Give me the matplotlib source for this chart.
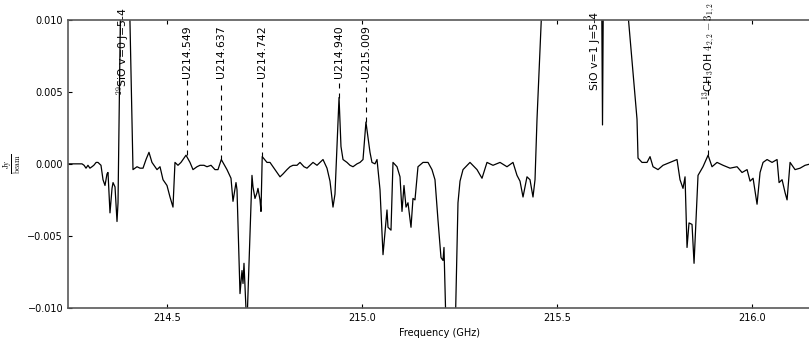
import matplotlib
matplotlib.use("Agg")

import matplotlib.pyplot as plt
import numpy as np

plt.rcParams['mathtext.fontset'] = 'cm'

# spectrum: frequency (GHz) and flux density (Jy/beam), peaks beyond the plot range get clipped
freq_ghz = [
    214.2448, 214.2550, 214.2700, 214.2807, 214.2860, 214.2910, 214.2960, 214.3010,
    214.3063, 214.3110, 214.3170, 214.3217, 214.3294, 214.3346, 214.3397, 214.3448,
    214.3474, 214.3525, 214.3577, 214.3603, 214.3654, 214.3705, 214.3731, 214.3885,
    214.4115, 214.4218, 214.4295, 214.4372, 214.4449, 214.4525, 214.4602, 214.4679,
    214.4731, 214.4808, 214.4885, 214.4936, 214.4987, 214.5064, 214.5141, 214.5192,
    214.5269, 214.5346, 214.5475, 214.5577, 214.5654, 214.5757, 214.5834, 214.5936,
    214.6013, 214.6116, 214.6218, 214.6295, 214.6380, 214.6526, 214.6629, 214.6680,
    214.6757, 214.6783, 214.6860, 214.6911, 214.6937, 214.6962, 214.7014, 214.7040,
    214.7167, 214.7193, 214.7244, 214.7296, 214.7321, 214.7373, 214.7398, 214.7430,
    214.7552, 214.7629, 214.7706, 214.7809, 214.7886, 214.7963, 214.8065, 214.8142,
    214.8219, 214.8322, 214.8399, 214.8501, 214.8578, 214.8732, 214.8835, 214.8989,
    214.9091, 214.9168, 214.9245, 214.9296, 214.9348, 214.9400, 214.9450, 214.9502,
    214.9604, 214.9681, 214.9758, 214.9861, 214.9938, 215.0015, 215.0090, 215.0194,
    215.0245, 215.0322, 215.0374, 215.0451, 215.0528, 215.0630, 215.0656, 215.0733,
    215.0784, 215.0887, 215.0964, 215.1015, 215.1066, 215.1118, 215.1169, 215.1246,
    215.1297, 215.1348, 215.1425, 215.1554, 215.1682, 215.1784, 215.1861, 215.1938,
    215.2015, 215.2067, 215.2092, 215.2272, 215.2451, 215.2503, 215.2580, 215.2759,
    215.2939, 215.3067, 215.3195, 215.3349, 215.3529, 215.3708, 215.3862, 215.3965,
    215.4042, 215.4119, 215.4221, 215.4298, 215.4375, 215.4427, 215.4478, 215.4606,
    215.4811, 215.6094, 215.6158, 215.6222, 215.6607, 215.6761, 215.7043, 215.7069,
    215.7171, 215.7300, 215.7377, 215.7454, 215.7582, 215.7710, 215.7890, 215.8069,
    215.8146, 215.8223, 215.8275, 215.8326, 215.8377, 215.8454, 215.8506, 215.8583,
    215.8608, 215.8736, 215.8866, 215.8967, 215.9096, 215.9250, 215.9429, 215.9609,
    215.9737, 215.9866, 215.9943, 216.0020, 216.0122, 216.0199, 216.0276, 216.0379,
    216.0507, 216.0635, 216.0687, 216.0764, 216.0841, 216.0892, 216.0969, 216.1097,
    216.1226, 216.1354, 216.1500,
]
flux_jy = [
    0.0000, 0.0000, 0.0000, 0.0000, -0.0001, -0.0003, -0.0001, -0.0003,
    -0.0002, -0.0001, 0.0001, 0.0001, -0.0001, -0.0011, -0.0015, -0.0007,
    -0.0006, -0.0034, -0.0017, -0.0013, -0.0016, -0.0040, -0.0027, 0.0300,
    -0.0004, -0.0002, -0.0003, -0.0003, 0.0003, 0.0008, 0.0001, -0.0002,
    -0.0004, -0.0002, -0.0011, -0.0013, -0.0015, -0.0023, -0.0030, 0.0001,
    -0.0001, 0.0001, 0.0006, 0.0001, -0.0004, -0.0002, -0.0001, -0.0001,
    -0.0002, -0.0001, -0.0004, -0.0004, 0.0003, -0.0004, -0.0010, -0.0026,
    -0.0013, -0.0018, -0.0090, -0.0074, -0.0083, -0.0069, -0.0101, -0.0110,
    -0.0008, -0.0016, -0.0024, -0.0020, -0.0017, -0.0025, -0.0033, 0.0005,
    0.0001, 0.0001, -0.0002, -0.0006, -0.0009, -0.0007, -0.0004, -0.0002,
    -0.0001, -0.0001, 0.0001, -0.0002, -0.0003, 0.0001, -0.0001, 0.0003,
    -0.0003, -0.0012, -0.0030, -0.0021, 0.0012, 0.0046, 0.0012, 0.0003,
    0.0001, -0.0001, -0.0002, 0.0000, 0.0001, 0.0003, 0.0029, 0.0008,
    0.0001, 0.0000, 0.0003, -0.0018, -0.0063, -0.0032, -0.0044, -0.0046,
    0.0001, -0.0002, -0.0009, -0.0033, -0.0015, -0.0030, -0.0027, -0.0044,
    -0.0024, -0.0025, -0.0002, 0.0001, 0.0001, -0.0004, -0.0011, -0.0039,
    -0.0065, -0.0067, -0.0058, -0.0250, -0.0027, -0.0012, -0.0004, 0.0001,
    -0.0004, -0.0010, 0.0001, -0.0001, 0.0001, -0.0002, 0.0001, -0.0008,
    -0.0012, -0.0023, -0.0009, -0.0011, -0.0023, -0.0011, 0.0031, 0.0110,
    0.0300, 0.0300, 0.0027, 0.0300, 0.0300, 0.0120, 0.0031, 0.0004,
    0.0001, 0.0001, 0.0005, -0.0002, -0.0004, -0.0001, 0.0001, 0.0003,
    -0.0011, -0.0017, -0.0009, -0.0058, -0.0041, -0.0042, -0.0069, -0.0023,
    -0.0008, -0.0002, 0.0006, -0.0002, 0.0001, -0.0001, -0.0003, -0.0002,
    -0.0006, -0.0004, -0.0012, -0.0010, -0.0028, -0.0006, 0.0001, 0.0003,
    0.0001, 0.0003, -0.0013, -0.0011, -0.0020, -0.0025, 0.0001, -0.0004,
    -0.0003, -0.0001, 0.0000,
]

# identified lines: rest frequency, label, flux of the peak under the marker (None = no marker)
line_freqs = [214.385, 214.549, 214.637, 214.742, 214.940, 215.009, 215.596, 215.8866]
line_labels = [
    r"$^{29}$SiO v=0 J=5-4",
    "U214.549",
    "U214.637",
    "U214.742",
    "U214.940",
    "U215.009",
    "SiO v=1 J=5-4",
    r"$^{13}$CH$_3$OH $4_{2,2}-3_{1,2}$",
]
line_peaks = [None, 0.0006, 0.0003, 0.0005, 0.0046, 0.0029, None, 0.0006]

label_y = 0.0078   # centre of the rotated labels
marker_top = 0.0058  # dashed markers stop just under the labels

fig = plt.figure(figsize=(8.09, 3.41), dpi=100)
ax = fig.add_axes([68 / 809, 33 / 341, 742.5 / 809, 288.3 / 341])

ax.plot(freq_ghz, flux_jy, color='black', linewidth=0.9)

for f, lab, peak in zip(line_freqs, line_labels, line_peaks):
    if peak is not None:
        ax.plot([f, f], [peak, marker_top], color='black', linewidth=0.8,
                linestyle=(0, (4.5, 4.5)))
    ax.text(f, label_y, lab, rotation=90, ha='center', va='center',
            fontsize=7.8, clip_on=False)

ax.set_xlim(214.2448, 216.1493)
ax.set_ylim(-0.010, 0.010)
ax.set_xticks([214.5, 215.0, 215.5, 216.0])
ax.set_yticks([-0.010, -0.005, 0.0, 0.005, 0.010])
ax.xaxis.set_major_formatter(matplotlib.ticker.FormatStrFormatter('%.1f'))
ax.yaxis.set_major_formatter(matplotlib.ticker.FuncFormatter(
    lambda v, pos: ('%.3f' % v).replace('-', '\u2212')))

ax.tick_params(direction='in', length=3, width=0.8, labelsize=7,
               top=True, right=False, colors='black')
for s in ax.spines.values():
    s.set_color('0.35')
    s.set_linewidth(1.2)
ax.spines['right'].set_visible(False)

ax.set_xlabel("Frequency (GHz)", fontsize=7, labelpad=4)
ax.set_ylabel(r"$\frac{\rm Jy}{\rm beam}$", fontsize=8, rotation=90)
ax.yaxis.set_label_coords(-0.061, 0.5)

fig.savefig("out.png", dpi=100)
